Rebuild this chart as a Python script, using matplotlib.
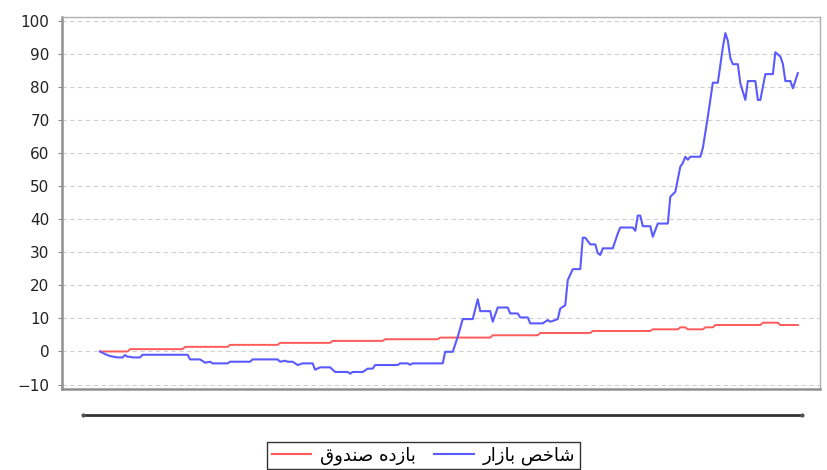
import numpy as np
import matplotlib
matplotlib.use('Agg')
import matplotlib.pyplot as plt
from matplotlib.lines import Line2D

# trading day index
market_days = [0, 2, 4, 7, 9, 10, 11, 12, 13, 16, 17, 35, 36, 40, 42, 44, 45, 51, 52, 60,
               61, 71, 72, 74, 75, 77, 79, 81, 85, 86, 88, 92, 94, 99, 100, 101, 105, 107, 109, 110,
               119, 120, 123, 124, 125, 137, 138, 141, 143, 145, 149, 151, 152, 156, 157, 159, 163, 164, 167, 168,
               171, 172, 177, 179, 180, 182, 183, 184, 186, 187, 189, 192, 193, 194, 196, 198, 199, 200, 201, 205,
               207, 208, 213, 214, 215, 216, 217, 220, 221, 223, 227, 228, 230, 232, 233, 234, 235, 236, 240, 241,
               243, 245, 247, 249, 250, 251, 252, 253, 255, 256, 258, 259, 262, 263, 264, 266, 269, 270, 272, 273,
               274, 276, 277, 279]
market_vals = [0, -0.8, -1.4, -1.8, -1.8, -1.1, -1.6, -1.6, -1.8, -1.8, -1.0, -1.0, -2.4, -2.4, -3.4, -3.1, -3.6, -3.6, -3.1, -3.1,
               -2.4, -2.4, -3.1, -2.8, -3.1, -3.1, -4.1, -3.6, -3.6, -5.5, -4.8, -4.8, -6.2, -6.2, -6.7, -6.2, -6.2, -5.2, -5.2, -4.1,
               -4.1, -3.6, -3.6, -4.0, -3.6, -3.6, -0.1, -0.1, 4.4, 9.8, 9.8, 15.8, 12.2, 12.2, 9.0, 13.3, 13.3, 11.5, 11.5, 10.3,
               10.3, 8.5, 8.5, 9.5, 9.0, 9.5, 9.8, 13.0, 14.0, 21.6, 24.9, 24.9, 34.4, 34.4, 32.4, 32.4, 29.7, 29.2, 31.2, 31.2,
               35.7, 37.5, 37.5, 36.5, 41.1, 41.1, 37.9, 37.9, 34.7, 38.7, 38.7, 46.8, 48.3, 55.9, 57.0, 58.9, 58.0, 58.9, 58.9, 61.5,
               71.0, 81.3, 81.3, 92.0, 96.3, 94.0, 88.7, 86.9, 86.9, 81.1, 76.1, 81.8, 81.8, 76.1, 76.1, 83.9, 83.9, 90.5, 89.2, 87.0,
               81.8, 81.8, 79.6, 84.2]

fund_days = [0, 11, 12, 33, 34, 51, 52, 71, 72, 92, 93, 113, 114, 135, 136, 156, 157, 175, 176, 196,
             197, 220, 221, 231, 232, 234, 235, 241, 242, 245, 246, 264, 265, 271, 272, 279]
fund_vals = [0, 0, 0.7, 0.7, 1.4, 1.4, 2.0, 2.0, 2.6, 2.6, 3.2, 3.2, 3.7, 3.7, 4.2, 4.2, 4.9, 4.9, 5.6, 5.6,
             6.2, 6.2, 6.7, 6.7, 7.3, 7.3, 6.7, 6.7, 7.3, 7.3, 8.0, 8.0, 8.7, 8.7, 8.0, 8.0]

labels = ['بازده صندوق', 'شاخص بازار']
colors = ['#ff5a5a', '#5a5aff']
yticks = list(range(-10, 101, 10))

# matplotlib has no arabic shaping, so pick presentation forms by hand
FORMS = {
    'ا': ('\ufe8d', '\ufe8e', None, None),
    'ب': ('\ufe8f', '\ufe90', '\ufe91', '\ufe92'),
    'خ': ('\ufea5', '\ufea6', '\ufea7', '\ufea8'),
    'د': ('\ufea9', '\ufeaa', None, None),
    'ر': ('\ufead', '\ufeae', None, None),
    'ز': ('\ufeaf', '\ufeb0', None, None),
    'ش': ('\ufeb5', '\ufeb6', '\ufeb7', '\ufeb8'),
    'ص': ('\ufeb9', '\ufeba', '\ufebb', '\ufebc'),
    'ق': ('\ufed5', '\ufed6', '\ufed7', '\ufed8'),
    'ن': ('\ufee5', '\ufee6', '\ufee7', '\ufee8'),
    'ه': ('\ufee9', '\ufeea', '\ufeeb', '\ufeec'),
    'و': ('\ufeed', '\ufeee', None, None),
}


def shape(text):
    out = []
    for i, ch in enumerate(text):
        if ch not in FORMS:
            out.append(ch)
            continue
        prev = text[i - 1] if i > 0 else ''
        nxt = text[i + 1] if i + 1 < len(text) else ''
        join_prev = prev in FORMS and FORMS[prev][2] is not None
        join_next = FORMS[ch][2] is not None and nxt in FORMS
        f = FORMS[ch]
        if join_prev and join_next:
            out.append(f[3])
        elif join_prev:
            out.append(f[1])
        elif join_next:
            out.append(f[2])
        else:
            out.append(f[0])
    return ''.join(out)[::-1]


plt.rcParams['font.family'] = ['DejaVu Sans']

fig = plt.figure(figsize=(8.27, 4.70), dpi=100)
ax = fig.add_axes([0.075, 0.172, 0.917, 0.792])

ax.plot(fund_days, fund_vals, color=colors[0], lw=1.4)
ax.plot(market_days, market_vals, color=colors[1], lw=1.5)

ax.set_xlim(-15.2, 288)
ax.set_ylim(-11.4, 101.2)
ax.set_yticks(yticks)
ax.set_xticks([])
ax.yaxis.grid(True, color='#d0d0d0', linestyle=(0, (4, 3)), lw=0.8)
ax.set_axisbelow(True)
ax.tick_params(axis='y', length=3, width=0.8, color='#888888', pad=6,
               labelsize=11, labelcolor='#222222')

for side in ['top', 'right']:
    ax.spines[side].set_color('#b0b0b0')
    ax.spines[side].set_linewidth(1.0)
for side in ['left', 'bottom']:
    ax.spines[side].set_color('#909090')
    ax.spines[side].set_linewidth(1.8)

# empty date axis line under the plot
fig.add_artist(Line2D([0.100, 0.970], [0.117, 0.117], color='#333333', lw=2.0,
                      transform=fig.transFigure))
for xe in [0.100, 0.970]:
    fig.add_artist(Line2D([xe], [0.117], marker='o', ms=2, color='#555555',
                          transform=fig.transFigure))

handles = [Line2D([], [], color=c, lw=1.5) for c in colors]
leg = fig.legend(handles, [shape(l) for l in labels], loc='upper center',
                 bbox_to_anchor=(0.512, 0.060), ncol=2, fontsize=13,
                 frameon=True, fancybox=False, handlelength=2.2,
                 columnspacing=1.0, handletextpad=0.5, borderpad=0.25,
                 borderaxespad=0)
leg.get_frame().set_edgecolor('#000000')
leg.get_frame().set_linewidth(1.0)

fig.savefig('out.png', dpi=100)
